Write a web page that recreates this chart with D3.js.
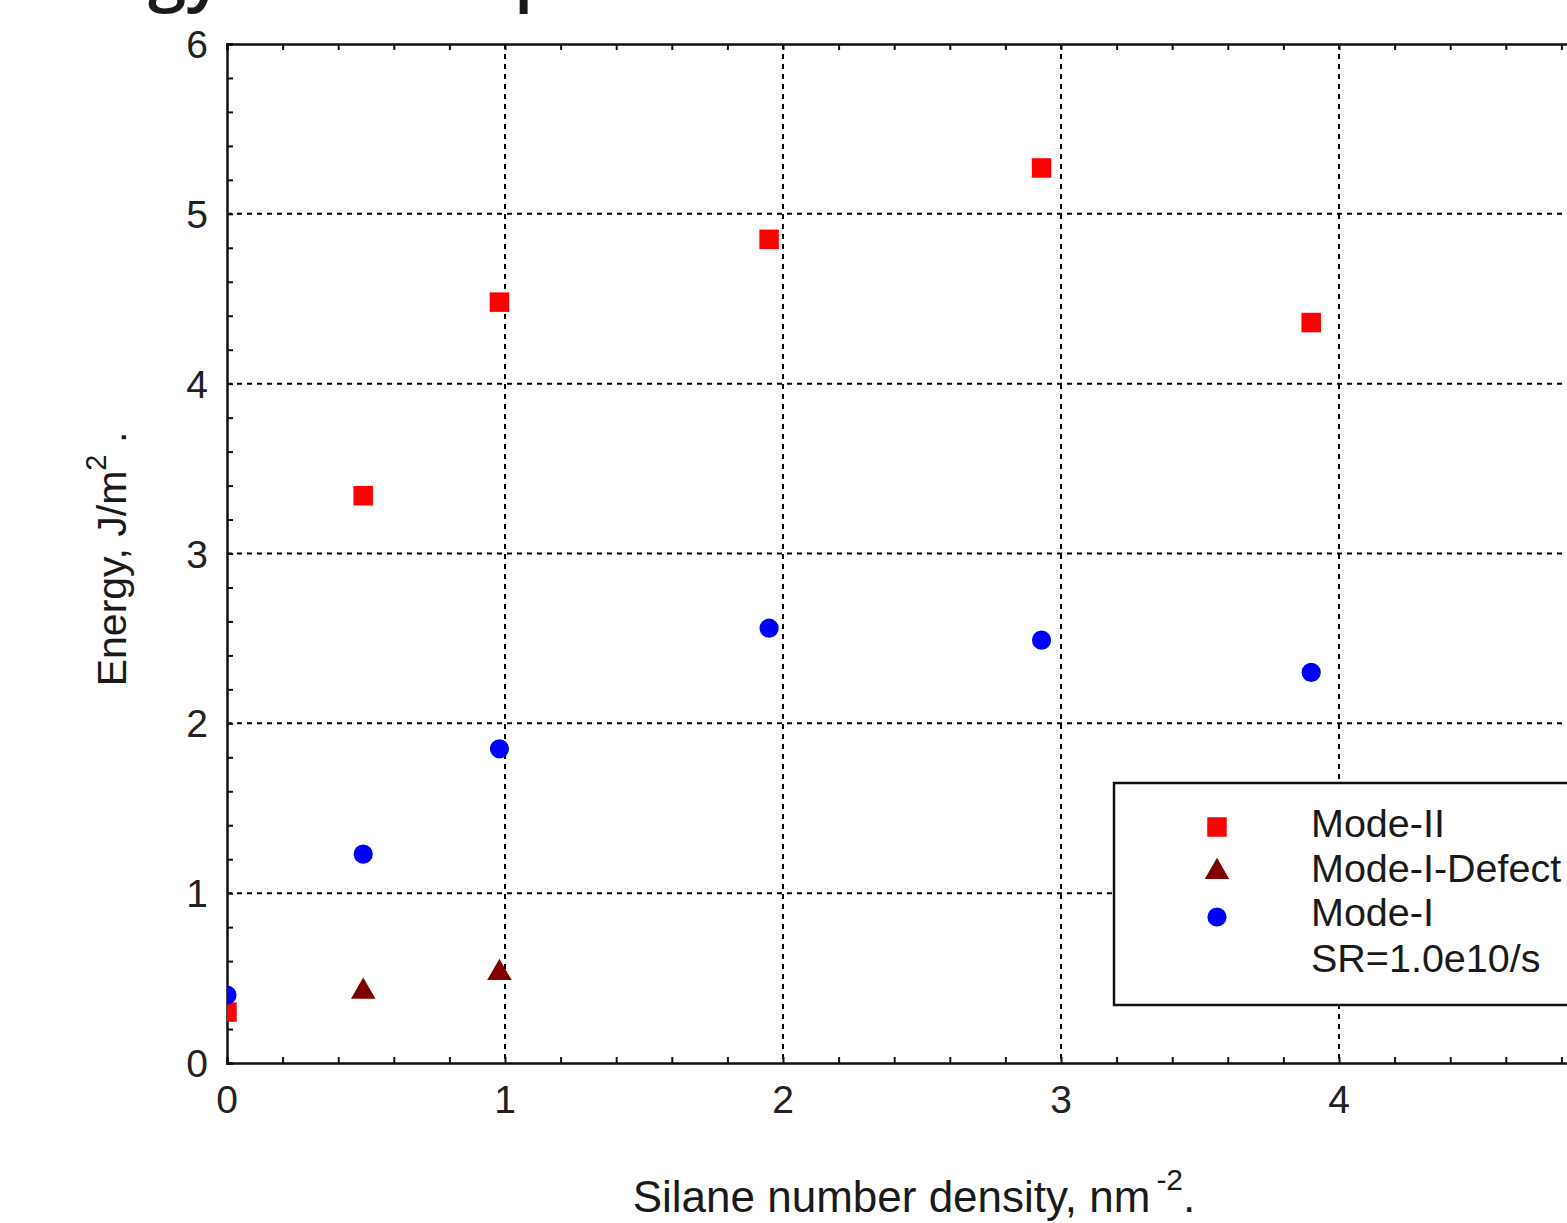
<!DOCTYPE html>
<html><head><meta charset="utf-8">
<script src="https://cdn.jsdelivr.net/npm/d3@7"></script>
<style>
html,body{margin:0;padding:0;background:#fff;overflow:hidden;}
svg text{font-family:"Liberation Sans",Arial,sans-serif;}
</style></head>
<body><svg id="c" width="1567" height="1223"></svg>
<script>
// ---- data ----
const seriesNames = ["Mode-II", "Mode-I-Defect", "Mode-I"];
const modeIIx = [0, 0.49, 0.98, 1.95, 2.93, 3.9];
const modeIIy = [0.30, 3.34, 4.48, 4.85, 5.27, 4.36];
const defectX = [0.49, 0.98];
const defectY = [0.42, 0.53];
const modeIx = [0, 0.49, 0.98, 1.95, 2.93, 3.9];
const modeIy = [0.40, 1.23, 1.85, 2.56, 2.49, 2.30];
const xTicks = [0, 1, 2, 3, 4];
const yTicks = [0, 1, 2, 3, 4, 5, 6];
const noteText = "SR=1.0e10/s";
const titleText = "Energy Consumption";

const svg = d3.select("#c");
const L = 227, T = 44, B = 1063, Rfull = 227 + 5 * 278;
const x = d3.scaleLinear().domain([0, 5]).range([L, Rfull]);
const y = d3.scaleLinear().domain([0, 6]).range([B, T]);

// cut-off title at top
svg.append("text").attr("x", -4).attr("y", -3)
  .attr("font-weight", 600).attr("font-size", 69).attr("fill", "#1a1a1a")
  .style("font-family", "'Open Sans', sans-serif")
  .text(titleText);

const defs = svg.append("defs");
defs.append("clipPath").attr("id", "plot").append("rect")
  .attr("x", L).attr("y", T).attr("width", Rfull - L).attr("height", B - T);

// gridlines
const grid = svg.append("g").attr("stroke", "#000").attr("stroke-width", 2)
  .attr("stroke-dasharray", "5,5");
grid.selectAll(".gx").data(xTicks.filter(d => d > 0)).join("line")
  .attr("x1", d => x(d)).attr("x2", d => x(d)).attr("y1", T).attr("y2", B);
grid.selectAll(".gy").data(yTicks.filter(d => d > 0 && d < 6)).join("line")
  .attr("y1", d => y(d)).attr("y2", d => y(d)).attr("x1", L).attr("x2", Rfull);

// axes with inward ticks
const minorX = d3.range(0, 5.001, 0.2);
const minorY = d3.range(0, 6.001, 0.2);
const axB = svg.append("g").attr("transform", `translate(0,${B})`)
  .call(d3.axisBottom(x).tickValues(minorX).tickSize(-6).tickFormat(""));
const axT = svg.append("g").attr("transform", `translate(0,${T})`)
  .call(d3.axisTop(x).tickValues(minorX).tickSize(-6).tickFormat(""));
const axL = svg.append("g").attr("transform", `translate(${L},0)`)
  .call(d3.axisLeft(y).tickValues(minorY).tickSize(-6).tickFormat(""));
[axB, axT, axL].forEach(a => {
  a.select(".domain").attr("stroke", "#111").attr("stroke-width", 2.5);
  a.selectAll(".tick line").attr("stroke", "#111").attr("stroke-width", 2);
});

// tick labels
svg.append("g").selectAll("text").data(xTicks).join("text")
  .attr("x", d => x(d)).attr("y", B + 50).attr("text-anchor", "middle")
  .attr("font-size", 39).attr("fill", "#222").text(d => d);
svg.append("g").selectAll("text").data(yTicks).join("text")
  .attr("x", 208).attr("y", d => y(d) + 14).attr("text-anchor", "end")
  .attr("font-size", 39).attr("fill", "#222").text(d => d);

// axis titles
const xt = svg.append("text").attr("x", 914).attr("y", 1212).attr("text-anchor", "middle")
  .attr("font-size", 44).attr("fill", "#1a1a1a");
xt.append("tspan").text("Silane number density, nm");
xt.append("tspan").attr("dx", 6).attr("dy", -22).attr("font-size", 30).text("-2");
xt.append("tspan").attr("dy", 22).text(".");

const yt = svg.append("text").attr("transform", "translate(126,559) rotate(-90)")
  .attr("text-anchor", "middle").attr("font-size", 41).attr("fill", "#1a1a1a");
yt.append("tspan").text("Energy, J/m");
yt.append("tspan").attr("dy", -20).attr("font-size", 29).text("2");
yt.append("tspan").attr("dy", 20).text(" .");

// markers
const sq = d3.symbol().type(d3.symbolSquare).size(380);
const tri = d3.symbol().type(d3.symbolTriangle).size(260);
const cir = d3.symbol().type(d3.symbolCircle).size(290);
const pts = svg.append("g").attr("clip-path", "url(#plot)");
pts.selectAll(".s").data(modeIIx.map((v, i) => [v, modeIIy[i]])).join("path")
  .attr("d", sq).attr("fill", "#ff0000")
  .attr("transform", d => `translate(${x(d[0])},${y(d[1])})`);
pts.selectAll(".t").data(defectX.map((v, i) => [v, defectY[i]])).join("path")
  .attr("d", tri).attr("fill", "#7f0000")
  .attr("transform", d => `translate(${x(d[0])},${y(d[1])})`);
pts.selectAll(".c").data(modeIx.map((v, i) => [v, modeIy[i]])).join("path")
  .attr("d", cir).attr("fill", "#0000ff")
  .attr("transform", d => `translate(${x(d[0])},${y(d[1])})`);

// legend
const lg = svg.append("g");
lg.append("rect").attr("x", 1114).attr("y", 783).attr("width", 600).attr("height", 222)
  .attr("fill", "#fff").attr("stroke", "#111").attr("stroke-width", 2.5);
const legSyms = [sq, tri, cir];
const legCols = ["#ff0000", "#7f0000", "#0000ff"];
const legSymY = [827, 872, 917];
seriesNames.forEach((n, i) => {
  lg.append("path").attr("d", legSyms[i]).attr("fill", legCols[i])
    .attr("transform", `translate(1217,${legSymY[i]})`);
  lg.append("text").attr("x", 1311).attr("y", 837 + i * 44.5)
    .attr("font-size", 39.5).attr("fill", "#1a1a1a").text(n);
});
lg.append("text").attr("x", 1311).attr("y", 972)
  .attr("font-size", 39.5).attr("fill", "#1a1a1a").text(noteText);
</script></body></html>
